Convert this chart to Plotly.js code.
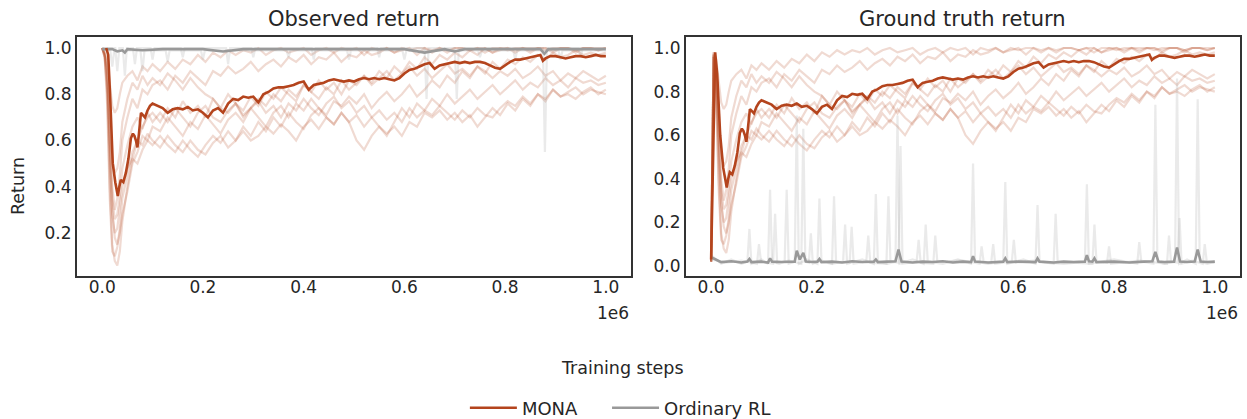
<!DOCTYPE html>
<html>
<head>
<meta charset="utf-8">
<script src="https://cdn.plot.ly/plotly-3.0.1.min.js"></script>
<style>html,body{margin:0;padding:0;background:#fff;}#chart{width:1247px;height:419px;}</style>
</head>
<body>
<div id="chart"></div>
<script>
// ---------- DATA (training steps in millions) ----------
const panelTitles = ["Observed return", "Ground truth return"];
const seriesNames = ["MONA", "Ordinary RL"];
const xTicks = [0.0, 0.2, 0.4, 0.6, 0.8, 1.0];
const yTicksObserved = [0.2, 0.4, 0.6, 0.8, 1.0];
const yTicksTruth = [0.0, 0.2, 0.4, 0.6, 0.8, 1.0];

// MONA individual seeds (shared step grid)
const seedSteps = [0.005,0.01,0.015,0.02,0.025,0.03,0.035,0.04,0.05,0.06,0.07,0.08,0.09,0.1,
  0.115,0.13,0.145,0.16,0.175,0.19,0.205,0.22,0.235,0.25,0.265,0.28,0.295,0.31,0.325,
  0.34,0.355,0.37,0.385,0.40,0.415,0.43,0.445,0.46,0.475,0.49,0.505,0.52,0.535,0.55,
  0.565,0.58,0.595,0.61,0.625,0.64,0.655,0.67,0.685,0.70,0.715,0.73,0.745,0.76,0.775,
  0.79,0.805,0.82,0.835,0.85,0.865,0.88,0.895,0.91,0.925,0.94,0.955,0.97,0.985,1.0];
const monaSeed1 = [0.98,0.95,0.85,0.75,0.72,0.74,0.8,0.85,0.88,0.9,0.86,0.92,0.9,0.93,
  0.9,0.94,0.91,0.95,0.93,0.97,0.94,0.98,0.96,0.99,0.97,0.99,0.98,1.0,0.97,
  0.99,1.0,0.98,0.99,1.0,0.97,0.99,1.0,0.98,1.0,0.99,1.0,0.97,1.0,0.99,
  1.0,0.98,1.0,0.99,1.0,1.0,0.98,1.0,0.99,1.0,1.0,0.99,1.0,0.98,1.0,
  1.0,0.99,1.0,1.0,0.98,1.0,1.0,0.99,1.0,1.0,0.99,1.0,1.0,0.99,1.0];
const monaSeed2 = [0.97,0.9,0.6,0.4,0.3,0.35,0.45,0.6,0.7,0.78,0.74,0.82,0.8,0.84,
  0.86,0.82,0.88,0.85,0.9,0.87,0.84,0.9,0.88,0.92,0.89,0.91,0.94,0.9,0.93,
  0.95,0.92,0.96,0.94,0.97,0.93,0.96,0.95,0.98,0.94,0.97,0.96,0.99,0.97,0.98,
  1.0,0.98,0.99,1.0,0.97,1.0,0.99,1.0,0.98,1.0,1.0,0.99,1.0,1.0,0.98,
  1.0,1.0,0.99,1.0,1.0,1.0,0.99,1.0,1.0,1.0,0.98,1.0,1.0,1.0,1.0];
const monaSeed3 = [0.96,0.8,0.4,0.15,0.08,0.06,0.12,0.25,0.4,0.52,0.6,0.66,0.7,0.72,
  0.68,0.74,0.7,0.77,0.72,0.75,0.7,0.78,0.74,0.8,0.76,0.73,0.79,0.75,0.81,
  0.78,0.83,0.8,0.77,0.84,0.81,0.86,0.82,0.85,0.8,0.86,0.84,0.88,0.85,0.9,
  0.87,0.92,0.89,0.94,0.91,0.96,0.93,0.97,0.95,0.98,0.96,0.99,0.97,1.0,0.98,
  0.99,1.0,0.98,1.0,0.99,1.0,1.0,0.98,1.0,1.0,0.99,1.0,1.0,0.99,1.0];
const monaSeed4 = [0.97,0.85,0.55,0.3,0.18,0.15,0.2,0.28,0.38,0.5,0.55,0.62,0.6,0.66,
  0.64,0.7,0.66,0.62,0.68,0.65,0.71,0.67,0.63,0.69,0.72,0.68,0.74,0.7,0.66,
  0.72,0.75,0.7,0.76,0.73,0.78,0.74,0.71,0.77,0.75,0.79,0.76,0.8,0.74,0.78,
  0.81,0.77,0.8,0.84,0.79,0.82,0.86,0.83,0.88,0.85,0.9,0.87,0.92,0.89,0.94,
  0.91,0.95,0.93,0.96,0.94,0.97,0.95,0.98,0.96,0.97,0.99,0.97,0.98,0.97,0.98];
const monaSeed5 = [0.96,0.75,0.35,0.12,0.1,0.14,0.22,0.35,0.45,0.55,0.6,0.58,0.63,0.6,
  0.57,0.62,0.58,0.55,0.6,0.56,0.54,0.59,0.62,0.57,0.6,0.64,0.6,0.62,0.66,
  0.63,0.67,0.64,0.6,0.66,0.69,0.65,0.7,0.67,0.72,0.68,0.71,0.66,0.7,0.73,
  0.69,0.72,0.68,0.74,0.7,0.73,0.71,0.75,0.72,0.69,0.73,0.7,0.74,0.71,0.7,
  0.74,0.77,0.75,0.79,0.76,0.8,0.78,0.82,0.79,0.81,0.83,0.8,0.82,0.81,0.8];
const monaSeed6 = [0.97,0.88,0.6,0.35,0.26,0.28,0.36,0.48,0.58,0.66,0.7,0.65,0.72,0.68,
  0.72,0.68,0.74,0.7,0.66,0.72,0.75,0.7,0.68,0.73,0.76,0.71,0.74,0.77,0.72,
  0.75,0.7,0.76,0.73,0.78,0.74,0.71,0.76,0.79,0.74,0.77,0.72,0.75,0.7,0.66,
  0.62,0.68,0.74,0.7,0.76,0.73,0.78,0.75,0.8,0.76,0.79,0.82,0.78,0.81,0.84,
  0.8,0.83,0.86,0.82,0.85,0.83,0.87,0.84,0.86,0.83,0.87,0.85,0.86,0.84,0.85];
const monaSeed7 = [0.98,0.92,0.7,0.52,0.46,0.48,0.55,0.68,0.78,0.85,0.82,0.88,0.84,0.87,
  0.84,0.89,0.86,0.82,0.87,0.83,0.8,0.78,0.74,0.72,0.76,0.7,0.74,0.78,0.75,
  0.8,0.77,0.82,0.79,0.84,0.81,0.78,0.83,0.8,0.86,0.82,0.85,0.88,0.84,0.87,
  0.9,0.86,0.89,0.92,0.88,0.91,0.87,0.9,0.93,0.89,0.91,0.88,0.92,0.9,0.87,
  0.9,0.88,0.91,0.87,0.89,0.92,0.88,0.9,0.86,0.89,0.87,0.9,0.88,0.86,0.88];
const monaSeed8 = [0.96,0.82,0.5,0.28,0.2,0.22,0.3,0.4,0.48,0.52,0.5,0.56,0.6,0.58,
  0.62,0.58,0.55,0.6,0.56,0.53,0.58,0.62,0.59,0.64,0.6,0.66,0.62,0.68,0.64,
  0.7,0.66,0.72,0.68,0.65,0.71,0.74,0.7,0.67,0.72,0.68,0.6,0.56,0.62,0.66,
  0.63,0.66,0.62,0.68,0.66,0.72,0.7,0.73,0.69,0.72,0.68,0.71,0.66,0.7,0.74,
  0.71,0.76,0.73,0.78,0.75,0.8,0.77,0.82,0.79,0.8,0.78,0.81,0.83,0.8,0.82];
const monaSeedStartObserved = 1.0;
const monaSeedStartTruth = 0.02;

// MONA mean
const monaMeanSteps = [0.008,0.012,0.016,0.021,0.026,0.031,0.034,0.037,0.042,0.047,0.052,0.057,0.061,0.064,
  0.067,0.070,0.073,0.077,0.081,0.085,0.09,0.095,0.10,
  0.11,0.12,0.13,0.14,0.15,0.16,0.17,0.18,0.19,0.20,0.21,0.22,0.23,0.24,0.25,0.26,0.27,0.28,0.29,0.30,
  0.31,0.32,0.33,0.34,0.35,0.36,0.37,0.38,0.39,0.40,0.41,0.42,0.43,0.44,0.45,0.46,0.47,0.48,0.49,0.50,
  0.51,0.52,0.53,0.54,0.55,0.56,0.57,0.58,0.59,0.60,0.61,0.62,0.63,0.64,0.65,0.66,0.67,0.68,0.69,0.70,
  0.71,0.72,0.73,0.74,0.75,0.76,0.77,0.78,0.79,0.80,0.81,0.82,0.83,0.84,0.85,0.86,0.87,0.875,0.88,0.89,0.90,
  0.91,0.92,0.93,0.94,0.95,0.96,0.97,0.98,0.99,1.00];
const monaMeanObserved = [1.0,0.97,0.78,0.5,0.42,0.36,0.4,0.43,0.42,0.46,0.52,0.61,0.63,0.62,
  0.6,0.57,0.63,0.72,0.71,0.7,0.73,0.75,0.76,
  0.75,0.74,0.72,0.735,0.74,0.735,0.745,0.73,0.735,0.72,0.70,0.73,0.74,0.72,0.76,0.78,0.775,0.79,0.785,0.79,
  0.765,0.80,0.81,0.825,0.83,0.83,0.835,0.84,0.85,0.855,0.82,0.84,0.845,0.85,0.86,0.865,0.86,0.855,0.86,0.855,
  0.865,0.87,0.865,0.87,0.865,0.87,0.865,0.86,0.87,0.89,0.905,0.91,0.92,0.93,0.935,0.91,0.925,0.93,0.935,0.94,
  0.935,0.94,0.935,0.94,0.94,0.935,0.925,0.915,0.91,0.925,0.94,0.95,0.95,0.955,0.96,0.965,0.97,0.945,0.955,0.965,0.965,
  0.96,0.955,0.96,0.965,0.965,0.96,0.965,0.97,0.965,0.965];
const monaMeanTruthHeadSteps = [0.0,0.004,0.008,0.012,0.018,0.024];
const monaMeanTruthHead = [0.03,0.5,0.98,0.88,0.6,0.45];

// Ordinary RL – observed panel
const rlMeanObsSteps = [0,0.02,0.03,0.04,0.045,0.05,0.08,0.12,0.2,0.24,0.28,0.4,0.5,0.6,0.64,0.68,0.7,0.72,0.8,0.87,0.878,0.886,0.95,1.0];
const rlMeanObs = [0.995,0.995,0.985,0.99,0.98,0.995,0.99,0.995,0.995,0.985,0.995,0.995,0.995,0.995,0.98,0.995,0.985,0.995,0.995,0.995,0.975,0.995,0.995,0.995];
const rlSeedAObsSteps = [0,0.026,0.03,0.034,0.041,0.045,0.049,0.061,0.065,0.069,0.096,0.1,0.104,0.156,0.16,0.164,0.246,0.25,0.254,0.296,0.3,0.304,0.416,0.42,0.424,0.546,0.55,0.554,0.64,0.644,0.648,0.7,0.704,0.708,0.875,0.879,0.883,0.946,0.95,0.954,1.0];
const rlSeedAObs = [1.0,1.0,0.9,1.0,1.0,0.88,1.0,1.0,0.93,1.0,1.0,0.95,1.0,1.0,0.96,1.0,1.0,0.93,1.0,1.0,0.96,1.0,1.0,0.95,1.0,1.0,0.96,1.0,1.0,0.78,1.0,1.0,0.78,1.0,1.0,0.55,1.0,1.0,0.96,1.0,1.0];
const rlSeedBObsSteps = [0,0.016,0.02,0.024,0.076,0.08,0.084,0.126,0.13,0.134,0.196,0.2,0.204,0.366,0.37,0.374,0.486,0.49,0.494,0.596,0.6,0.604,0.746,0.75,0.754,0.816,0.82,0.824,0.906,0.91,0.914,1.0];
const rlSeedBObs = [0.99,0.99,0.92,0.99,0.99,0.9,0.99,0.99,0.94,0.99,0.99,0.95,0.99,0.99,0.96,0.99,0.99,0.95,0.99,0.99,0.95,0.99,0.99,0.96,0.99,0.99,0.95,0.99,0.99,0.95,0.99,0.99];

// Ordinary RL – ground truth panel
const rlMeanTruthSteps = [0,0.02,0.04,0.06,0.072,0.076,0.08,0.1,0.113,0.117,0.121,0.14,0.166,0.17,0.176,0.183,0.188,0.2,0.211,0.215,0.219,0.24,0.26,0.28,0.3,0.323,0.327,0.331,0.35,0.366,0.372,0.378,0.4,0.42,0.44,0.46,0.48,0.5,0.516,0.52,0.524,0.55,0.58,0.584,0.588,0.61,0.644,0.648,0.652,0.68,0.7,0.72,0.742,0.746,0.75,0.757,0.761,0.765,0.8,0.83,0.86,0.876,0.882,0.888,0.9,0.919,0.925,0.931,0.945,0.96,0.966,0.972,0.985,1.0];
const rlMeanTruth = [0.04,0.018,0.022,0.016,0.02,0.032,0.018,0.02,0.016,0.035,0.02,0.018,0.02,0.07,0.03,0.06,0.02,0.018,0.02,0.032,0.018,0.02,0.016,0.022,0.018,0.02,0.03,0.018,0.02,0.022,0.075,0.02,0.016,0.02,0.018,0.022,0.016,0.02,0.018,0.045,0.02,0.016,0.02,0.035,0.018,0.02,0.018,0.035,0.02,0.016,0.02,0.018,0.02,0.05,0.022,0.02,0.035,0.018,0.02,0.016,0.02,0.022,0.065,0.02,0.018,0.02,0.085,0.02,0.018,0.02,0.075,0.02,0.018,0.02];
const rlSeedATruthSteps = [0,0.02,0.04,0.06,0.072,0.076,0.08,0.1,0.113,0.117,0.121,0.135,0.146,0.15,0.154,0.166,0.17,0.174,0.19,0.211,0.215,0.219,0.24,0.262,0.266,0.27,0.3,0.323,0.327,0.331,0.35,0.366,0.37,0.374,0.4,0.422,0.426,0.43,0.46,0.49,0.516,0.52,0.524,0.55,0.58,0.584,0.588,0.62,0.644,0.648,0.652,0.7,0.742,0.746,0.75,0.8,0.846,0.85,0.854,0.878,0.882,0.886,0.9,0.921,0.925,0.929,0.945,0.962,0.966,0.97,0.985,1.0];
const rlSeedATruth = [0.05,0.01,0.03,0.01,0.02,0.17,0.01,0.03,0.01,0.35,0.02,0.01,0.02,0.35,0.01,0.02,0.69,0.01,0.03,0.01,0.31,0.02,0.01,0.02,0.19,0.01,0.03,0.01,0.33,0.02,0.01,0.02,0.69,0.01,0.03,0.01,0.19,0.02,0.01,0.03,0.01,0.47,0.02,0.01,0.02,0.385,0.01,0.03,0.01,0.28,0.02,0.01,0.02,0.375,0.01,0.03,0.01,0.11,0.02,0.01,0.74,0.02,0.01,0.02,0.86,0.01,0.03,0.01,0.765,0.02,0.01,0.02];
const rlSeedBTruthSteps = [0,0.03,0.06,0.091,0.095,0.099,0.123,0.127,0.131,0.155,0.179,0.183,0.187,0.194,0.198,0.202,0.22,0.24,0.244,0.248,0.275,0.279,0.283,0.308,0.312,0.316,0.348,0.352,0.356,0.372,0.376,0.38,0.408,0.412,0.416,0.441,0.445,0.449,0.5,0.533,0.537,0.541,0.556,0.56,0.564,0.597,0.601,0.605,0.64,0.68,0.684,0.688,0.72,0.757,0.761,0.765,0.786,0.79,0.794,0.85,0.905,0.909,0.913,0.926,0.93,0.934,0.955,0.976,0.98,0.984,1.0];
const rlSeedBTruth = [0.03,0.015,0.025,0.01,0.10,0.02,0.01,0.24,0.015,0.025,0.01,0.63,0.02,0.015,0.15,0.01,0.025,0.01,0.32,0.02,0.015,0.18,0.01,0.02,0.14,0.015,0.01,0.32,0.02,0.015,0.55,0.01,0.02,0.12,0.015,0.01,0.14,0.02,0.025,0.01,0.09,0.02,0.015,0.10,0.01,0.02,0.12,0.015,0.025,0.01,0.24,0.02,0.015,0.01,0.19,0.02,0.015,0.09,0.01,0.025,0.01,0.14,0.02,0.015,0.22,0.01,0.025,0.01,0.1,0.02,0.015];

// ---------- STYLE ----------
const monaColor = '#b4441d';
const monaFaint = 'rgba(180,68,29,0.2)';
const rlColor = '#999999';
const rlFaint = 'rgba(160,160,160,0.22)';
const font = 'DejaVu Sans, sans-serif';
const textColor = '#262626';

const monaSeeds = [monaSeed1, monaSeed2, monaSeed3, monaSeed4, monaSeed5, monaSeed6, monaSeed7, monaSeed8];
const traces = [];

function addPanel(xa, ya, seedStart, meanX, meanY, rlSeeds, rlMeanX, rlMeanY, legend) {
  monaSeeds.forEach(s => traces.push({
    x: [0].concat(seedSteps), y: [seedStart].concat(s), xaxis: xa, yaxis: ya,
    type: 'scatter', mode: 'lines', line: {color: monaFaint, width: 2.2},
    showlegend: false, hoverinfo: 'skip'
  }));
  rlSeeds.forEach(s => traces.push({
    x: s[0], y: s[1], xaxis: xa, yaxis: ya, type: 'scatter', mode: 'lines',
    line: {color: rlFaint, width: 2.2}, showlegend: false, hoverinfo: 'skip'
  }));
  traces.push({x: rlMeanX, y: rlMeanY, xaxis: xa, yaxis: ya, type: 'scatter', mode: 'lines',
    line: {color: rlColor, width: 2.6}, name: seriesNames[1], showlegend: legend, legend: 'legend2'});
  traces.push({x: meanX, y: meanY, xaxis: xa, yaxis: ya, type: 'scatter', mode: 'lines',
    line: {color: monaColor, width: 2.6}, name: seriesNames[0], showlegend: legend, legend: 'legend'});
}

addPanel('x', 'y', monaSeedStartObserved, monaMeanSteps, monaMeanObserved,
  [[rlSeedAObsSteps, rlSeedAObs], [rlSeedBObsSteps, rlSeedBObs]], rlMeanObsSteps, rlMeanObs, true);
addPanel('x2', 'y2', monaSeedStartTruth,
  monaMeanTruthHeadSteps.concat(monaMeanSteps.slice(5)), monaMeanTruthHead.concat(monaMeanObserved.slice(5)),
  [[rlSeedATruthSteps, rlSeedATruth], [rlSeedBTruthSteps, rlSeedBTruth]], rlMeanTruthSteps, rlMeanTruth, false);

const axisCommon = {
  showline: true, mirror: true, linecolor: '#333', linewidth: 2,
  showgrid: false, zeroline: false, ticks: '',
  tickfont: {family: font, size: 17, color: textColor}
};
const xCommon = Object.assign({}, axisCommon, {range: [-0.05, 1.05], tickvals: xTicks, tickformat: '.1f', ticklabelstandoff: -5});
const legendCommon = {orientation: 'h', xref: 'container', yref: 'container', xanchor: 'left', y: 0.026, yanchor: 'middle',
  font: {family: font, size: 18, color: textColor}, itemwidth: 47, bgcolor: 'rgba(0,0,0,0)'};

const layout = {
  width: 1247, height: 419,
  margin: {l: 77, r: 7, t: 37, b: 143},
  paper_bgcolor: '#fff', plot_bgcolor: '#fff',
  font: {family: font, color: textColor},
  xaxis: Object.assign({}, xCommon, {domain: [0, 0.4764], anchor: 'y'}),
  xaxis2: Object.assign({}, xCommon, {domain: [0.5236, 1], anchor: 'y2'}),
  yaxis: Object.assign({}, axisCommon, {range: [0.0144, 1.0476], tickvals: yTicksObserved, tickformat: '.1f', anchor: 'x'}),
  yaxis2: Object.assign({}, axisCommon, {range: [-0.0459, 1.0505], tickvals: yTicksTruth, tickformat: '.1f', anchor: 'x2'}),
  showlegend: true,
  legend: Object.assign({}, legendCommon, {x: 0.3728}),
  legend2: Object.assign({}, legendCommon, {x: 0.4868}),
  annotations: [
    {text: panelTitles[0], xref: 'paper', yref: 'paper', x: 0.2382, y: 1.0753, xanchor: 'center', yanchor: 'middle', showarrow: false, font: {family: font, size: 21, color: textColor}},
    {text: panelTitles[1], xref: 'paper', yref: 'paper', x: 0.7618, y: 1.0753, xanchor: 'center', yanchor: 'middle', showarrow: false, font: {family: font, size: 21, color: textColor}},
    {text: '1e6', xref: 'paper', yref: 'paper', x: 0.4764, y: -0.155, xanchor: 'right', yanchor: 'middle', showarrow: false, font: {family: font, size: 17, color: textColor}},
    {text: '1e6', xref: 'paper', yref: 'paper', x: 1.0, y: -0.155, xanchor: 'right', yanchor: 'middle', showarrow: false, font: {family: font, size: 17, color: textColor}},
    {text: 'Training steps', xref: 'paper', yref: 'paper', x: 0.469, y: -0.385, xanchor: 'center', yanchor: 'middle', showarrow: false, font: {family: font, size: 17.5, color: textColor}},
    {text: 'Return', xref: 'paper', yref: 'paper', x: -0.0507, y: 0.3766, xanchor: 'center', yanchor: 'middle', textangle: -90, showarrow: false, font: {family: font, size: 17.5, color: textColor}}
  ]
};

Plotly.newPlot('chart', traces, layout, {displayModeBar: false, staticPlot: true});
</script>
</body>
</html>
